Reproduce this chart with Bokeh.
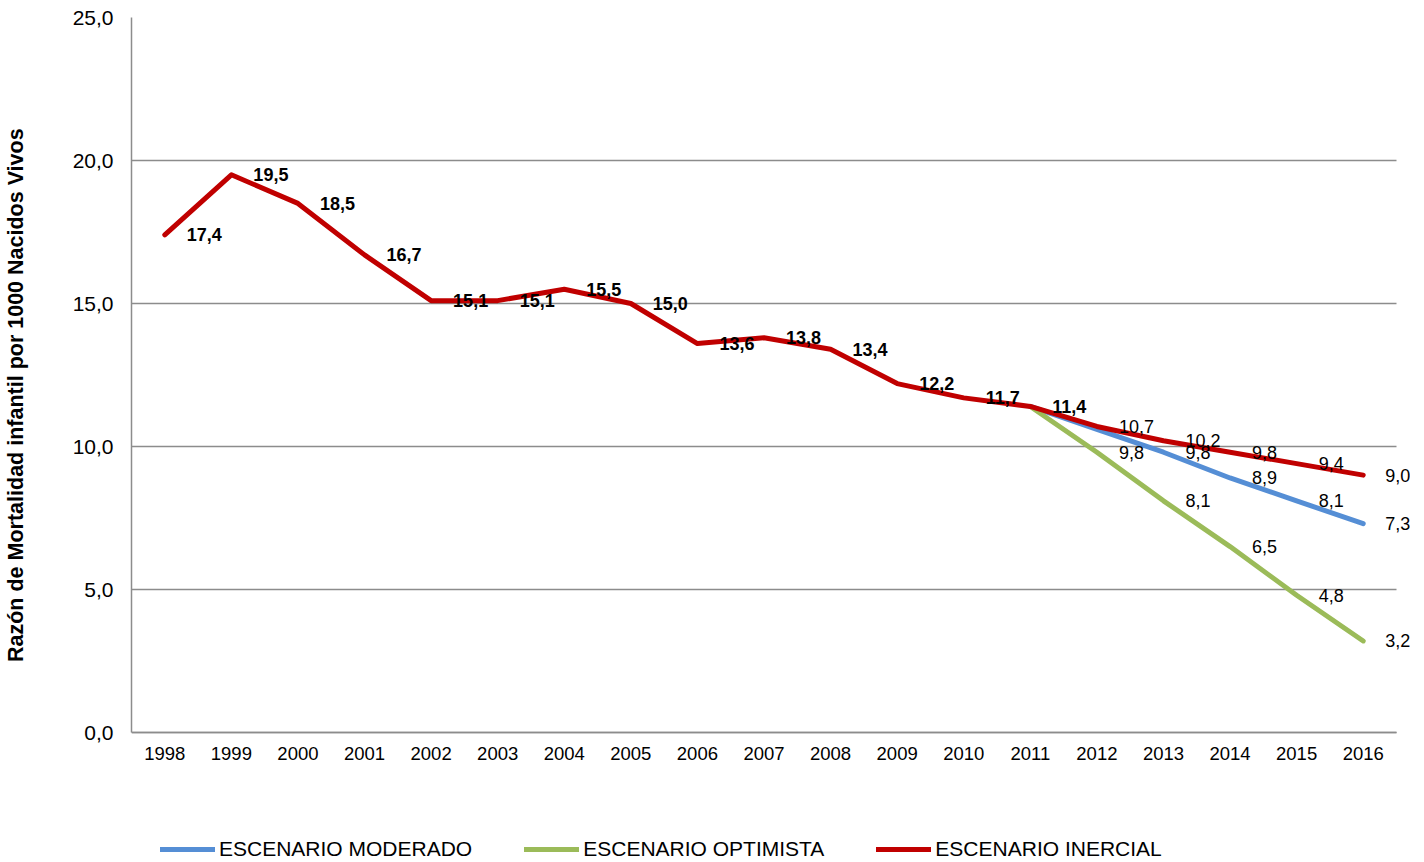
from bokeh.plotting import figure
from bokeh.models import Range1d, FixedTicker, Legend, LegendItem, ColumnDataSource
from bokeh.core.properties import value
from bokeh.embed import file_html
from bokeh.resources import INLINE

years = list(range(1998, 2017))
inercial = [17.4, 19.5, 18.5, 16.7, 15.1, 15.1, 15.5, 15.0, 13.6, 13.8, 13.4, 12.2, 11.7, 11.4,
            10.7, 10.2, 9.8, 9.4, 9.0]
proj_years = [2011, 2012, 2013, 2014, 2015, 2016]
moderado = [11.4, 10.6, 9.8, 8.9, 8.1, 7.3]
optimista = [11.4, 9.8, 8.1, 6.5, 4.8, 3.2]

# data labels as they appear on the chart
inercial_hist_years = years[:14]
inercial_hist_labels = ["17,4", "19,5", "18,5", "16,7", "15,1", "15,1", "15,5", "15,0", "13,6",
                        "13,8", "13,4", "12,2", "11,7", "11,4"]
inercial_proj_years = years[14:]
inercial_proj_labels = ["10,7", "10,2", "9,8", "9,4", "9,0"]
moderado_label_years = [2013, 2014, 2015, 2016]
moderado_labels = ["9,8", "8,9", "8,1", "7,3"]
optimista_label_years = [2012, 2013, 2014, 2015, 2016]
optimista_labels = ["9,8", "8,1", "6,5", "4,8", "3,2"]

x_tick_labels = [str(y) for y in years]
y_ticks = [0, 5, 10, 15, 20, 25]
y_tick_labels = ["0,0", "5,0", "10,0", "15,0", "20,0", "25,0"]
y_title = "Razón de Mortalidad infantil por 1000 Nacidos Vivos"

C_MOD = "#558ED5"
C_OPT = "#9BBB59"
C_INE = "#C00000"
FONT = "Liberation Sans"
GRID = "#8C8C8C"

# layout (pixels): value axis 0..25 spans 715 px; frame extends below 0 to hold the legend
PLOT_H = 715
EXTRA_BELOW = 130
FRAME_W = 1279
X0, X1 = years[0] - 0.5, years[-1] + 0.5
UNIT = 1265 / (X1 - X0)
Y0, Y1 = y_ticks[0], y_ticks[-1]
y_start = Y0 - EXTRA_BELOW * (Y1 - Y0) / PLOT_H
x_end = X0 + FRAME_W / UNIT

p = figure(frame_width=FRAME_W, frame_height=PLOT_H + EXTRA_BELOW,
           x_range=Range1d(X0, x_end), y_range=Range1d(y_start, Y1),
           output_backend="svg", toolbar_location=None,
           min_border_left=129, min_border_right=0, min_border_top=17, min_border_bottom=0)
p.outline_line_color = None
p.xgrid.grid_line_color = None
p.ygrid.grid_line_color = GRID
p.ygrid.grid_line_width = 1.5
p.ygrid.cross_bounds = (X0, X1)

p.yaxis.ticker = FixedTicker(ticks=y_ticks)
p.yaxis.bounds = (Y0, Y1)
p.yaxis.major_label_overrides = {t: l for t, l in zip(y_ticks, y_tick_labels)}
p.yaxis.axis_line_color = GRID
p.yaxis.axis_line_width = 1.5
p.yaxis.major_tick_line_color = None
p.yaxis.major_tick_out = 0
p.yaxis.major_tick_in = 0
p.yaxis.minor_tick_line_color = None
p.yaxis.major_label_standoff = 18
p.yaxis.major_label_text_font = FONT
p.yaxis.major_label_text_font_size = "21px"
p.yaxis.major_label_text_color = "#000000"
# leading no-break spaces shift the centred title up toward the 0..25 span
p.yaxis.axis_label = "\u00a0" * 15 + y_title
p.yaxis.axis_label_text_font = FONT
p.yaxis.axis_label_text_font_size = "21.5px"
p.yaxis.axis_label_text_font_style = "bold"
p.yaxis.axis_label_text_color = "#000000"
p.yaxis.axis_label_standoff = 42

p.xaxis.ticker = FixedTicker(ticks=years)
p.xaxis.fixed_location = Y0
p.xaxis.major_label_overrides = {y: l for y, l in zip(years, x_tick_labels)}
p.xaxis.bounds = (X0, X1)
p.xaxis.axis_line_color = GRID
p.xaxis.axis_line_width = 1.5
p.xaxis.major_tick_line_color = None
p.xaxis.major_tick_out = 0
p.xaxis.major_tick_in = 0
p.xaxis.minor_tick_line_color = None
p.xaxis.major_label_standoff = 14
p.xaxis.major_label_text_font = FONT
p.xaxis.major_label_text_font_size = "18.5px"
p.xaxis.major_label_text_color = "#000000"

r_mod = p.line(proj_years, moderado, line_color=C_MOD, line_width=5, line_cap="round", line_join="round")
r_opt = p.line(proj_years, optimista, line_color=C_OPT, line_width=5, line_cap="round", line_join="round")
r_ine = p.line(years, inercial, line_color=C_INE, line_width=5, line_cap="round", line_join="round")

val = dict(zip(years, inercial))
mval = dict(zip(proj_years, moderado))
oval = dict(zip(proj_years, optimista))

def labels(xs, ys, texts, style):
    src = ColumnDataSource(dict(x=xs, y=ys, t=texts))
    p.text("x", "y", text="t", source=src, x_offset=22, text_align="left", text_baseline="middle",
           text_font=value(FONT), text_font_size="18px", text_font_style=style, text_color="#000000")

labels(inercial_hist_years, [val[y] for y in inercial_hist_years], inercial_hist_labels, "bold")
labels(inercial_proj_years, [val[y] for y in inercial_proj_years], inercial_proj_labels, "normal")
labels(moderado_label_years, [mval[y] for y in moderado_label_years], moderado_labels, "normal")
labels(optimista_label_years, [oval[y] for y in optimista_label_years], optimista_labels, "normal")

legend = Legend(items=[LegendItem(label="ESCENARIO MODERADO", renderers=[r_mod]),
                       LegendItem(label="ESCENARIO OPTIMISTA", renderers=[r_opt]),
                       LegendItem(label="ESCENARIO INERCIAL", renderers=[r_ine])],
                orientation="horizontal", location=(29, 1),
                glyph_width=55, glyph_height=20, label_standoff=4, spacing=52,
                padding=0, margin=0, border_line_alpha=0, background_fill_alpha=0,
                label_text_font=FONT, label_text_font_size="21px", label_text_color="#000000",
                label_height=20)
p.add_layout(legend, "center")

open("out.html", "w").write(file_html(p, INLINE))
